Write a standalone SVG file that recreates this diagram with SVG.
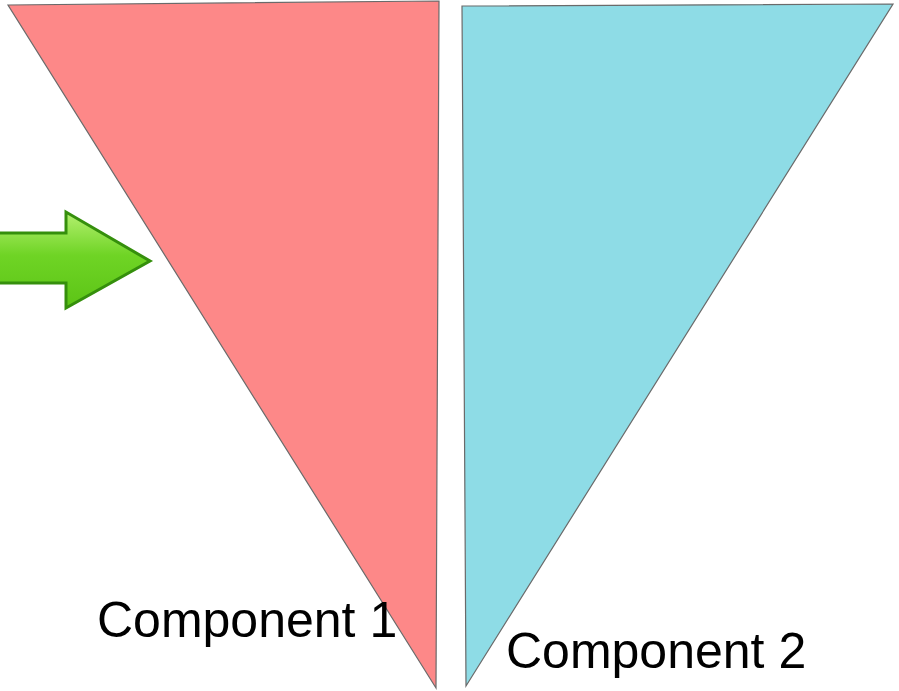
<svg xmlns="http://www.w3.org/2000/svg" width="899" height="691" viewBox="0 0 899 691">
<defs>
<linearGradient id="g" x1="0" y1="0" x2="0" y2="1">
<stop offset="0" stop-color="#b4f070"/>
<stop offset="0.45" stop-color="#6fd425"/>
<stop offset="1" stop-color="#5cc416"/>
</linearGradient>
</defs>
<style>
.tri{stroke:#6a6a6a;stroke-width:1.2;stroke-linejoin:miter}
.lbl{font-family:"Liberation Sans",Arial,sans-serif;font-size:50px;fill:#000}
</style>
<rect width="899" height="691" fill="#fff"/>
<g id="component1">
<polygon class="tri" points="8,5 439,1 436,688" fill="#fd8888"/>
<text class="lbl" x="97" y="637">Component 1</text>
</g>
<g id="component2">
<polygon class="tri" points="462,6 893,4 466,686" fill="#8edce6"/>
<text class="lbl" x="506" y="668">Component 2</text>
</g>
<g id="arrow">
<polygon points="-3,233 66,233 66,212 150,261 66,308 66,283 -3,283" fill="url(#g)" stroke="#358f0c" stroke-width="3" stroke-linejoin="miter"/>
</g>
</svg>
